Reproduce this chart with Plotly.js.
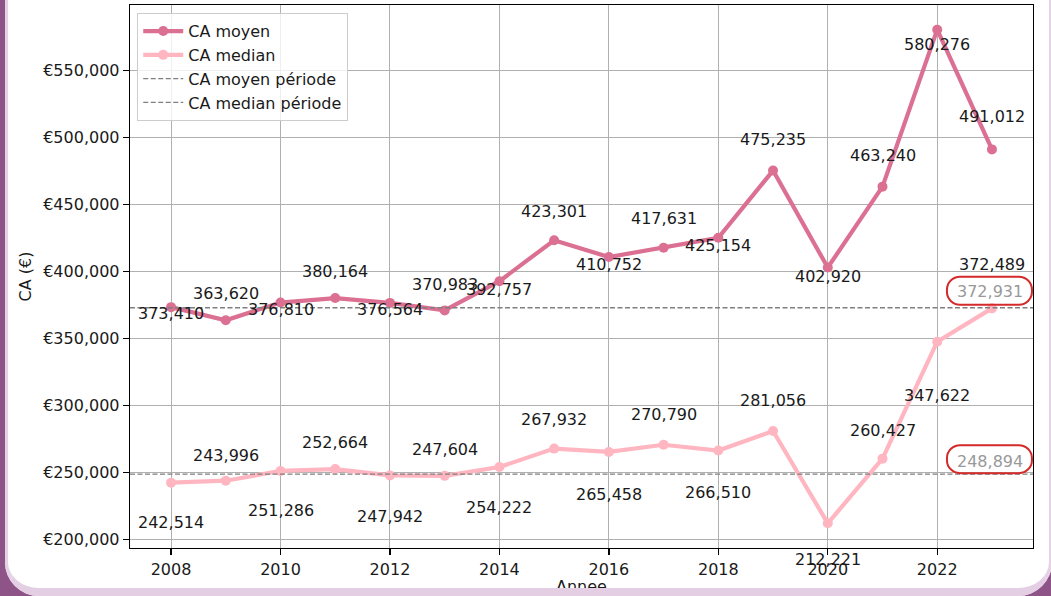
<!DOCTYPE html>
<html>
<head>
<meta charset="utf-8">
<script src="https://cdn.plot.ly/plotly-3.0.1.min.js"></script>
<style>
  html, body { margin: 0; padding: 0; background: #ffffff; overflow: hidden; }
  #wrap { position: relative; width: 1051px; height: 596px; overflow: hidden; }
  #chart { position: absolute; left: 0; top: 0; width: 1051px; height: 596px; }
  #frame {
    position: absolute; left: 5px; top: -60px; width: 1047px; height: 656px;
    box-sizing: border-box; border-radius: 34px;
    border-left: 3px solid #e6d2e6; border-right: 3px solid #e6d2e6; border-bottom: 8px solid #e4cee4;
    box-shadow: 0 0 0 80px #8e5488; pointer-events: none;
  }
</style>
</head>
<body>
<div id="wrap">
  <div id="chart"></div>
  <div id="frame"></div>
</div>
<script>
// ---- data ----
const years = [2008, 2009, 2010, 2011, 2012, 2013, 2014, 2015, 2016, 2017, 2018, 2019, 2020, 2021, 2022, 2023];
const caMoyen = [373410, 363620, 376810, 380164, 376564, 370983, 392757, 423301, 410752, 417631, 425154, 475235, 402920, 463240, 580276, 491012];
const caMedian = [242514, 243996, 251286, 252664, 247942, 247604, 254222, 267932, 265458, 270790, 266510, 281056, 212221, 260427, 347622, 372489];
const caMoyenPeriode = 372931;
const caMedianPeriode = 248894;
const yTicks = [200000, 250000, 300000, 350000, 400000, 450000, 500000, 550000];
const xTicks = [2008, 2010, 2012, 2014, 2016, 2018, 2020, 2022];

// ---- style: label vertical offsets (px) ----
const moyenLabelShift = [-6, 27, -7, 27, -7, 26, -8, 29, -7, 29, -8, 31, -9, 31, -15, 33];
const medianLabelShift = [-40, 25, -40, 27, -41, 26, -41, 29, -43, 30, -42, 31, -36, 28, -54, 44];

const FONT = 'DejaVu Sans, Verdana, sans-serif';
const FS = 16;
const colMoyen = '#db7093';
const colMedian = '#ffb6c1';

const xMin = years[0] - 0.75, xMax = years[years.length - 1] + 0.75;
const allVals = caMoyen.concat(caMedian);
const vMin = Math.min(...allVals), vMax = Math.max(...allVals);
const pad = (vMax - vMin) * 0.05;

const fmt = v => v.toLocaleString('en-US');

const traces = [
  { x: years, y: caMoyen, name: 'CA moyen', type: 'scatter', mode: 'lines+markers',
    line: { color: colMoyen, width: 4.2 }, marker: { color: colMoyen, size: 10 } },
  { x: years, y: caMedian, name: 'CA median', type: 'scatter', mode: 'lines+markers',
    line: { color: colMedian, width: 4.2 }, marker: { color: colMedian, size: 10 } },
  { x: [xMin, xMax], y: [caMoyenPeriode, caMoyenPeriode], name: 'CA moyen période', type: 'scatter', mode: 'lines',
    line: { color: '#7f7f7f', width: 1.3, dash: '5px,2.5px' } },
  { x: [xMin, xMax], y: [caMedianPeriode, caMedianPeriode], name: 'CA median période', type: 'scatter', mode: 'lines',
    line: { color: '#7f7f7f', width: 1.3, dash: '5px,2.5px' } }
];

const annotations = [];
years.forEach((yr, i) => {
  annotations.push({ x: yr, y: caMoyen[i], xref: 'x', yref: 'y', text: fmt(caMoyen[i]), showarrow: false,
    yanchor: 'middle', xanchor: 'center', yshift: moyenLabelShift[i], font: { family: FONT, size: FS, color: '#1a1a1a' } });
  annotations.push({ x: yr, y: caMedian[i], xref: 'x', yref: 'y', text: fmt(caMedian[i]), showarrow: false,
    yanchor: 'middle', xanchor: 'center', yshift: medianLabelShift[i], font: { family: FONT, size: FS, color: '#1a1a1a' } });
});
const lastYear = years[years.length - 1];
[[caMoyenPeriode, 16], [caMedianPeriode, 13]].forEach(([v, s]) => {
  annotations.push({ x: lastYear, y: v, xref: 'x', yref: 'y', text: fmt(v), showarrow: false,
    yanchor: 'middle', xanchor: 'center', xshift: -2, yshift: s, font: { family: FONT, size: FS, color: '#999999' } });
});

function roundRect(cx, cy, w, h, r) {
  const k = r * 0.5523;
  const l = cx - w / 2, rt = cx + w / 2, b = cy - h / 2, t = cy + h / 2;
  return `M${l + r},${b} L${rt - r},${b} C${rt - r + k},${b} ${rt},${b + r - k} ${rt},${b + r} ` +
         `L${rt},${t - r} C${rt},${t - r + k} ${rt - r + k},${t} ${rt - r},${t} ` +
         `L${l + r},${t} C${l + r - k},${t} ${l},${t - r + k} ${l},${t - r} ` +
         `L${l},${b + r} C${l},${b + r - k} ${l + r - k},${b} ${l + r},${b} Z`;
}
const shapes = [
  { type: 'path', xref: 'x', yref: 'y', xsizemode: 'pixel', ysizemode: 'pixel', xanchor: lastYear, yanchor: caMoyenPeriode,
    path: roundRect(-2.5, 17, 85, 28, 13), line: { color: '#d42a2a', width: 2 } },
  { type: 'path', xref: 'x', yref: 'y', xsizemode: 'pixel', ysizemode: 'pixel', xanchor: lastYear, yanchor: caMedianPeriode,
    path: roundRect(-2.5, 15, 85, 28, 13), line: { color: '#d42a2a', width: 2 } }
];

const layout = {
  width: 1051, height: 596,
  margin: { l: 130, r: 18, t: 5, b: 48 },
  paper_bgcolor: '#ffffff', plot_bgcolor: '#ffffff',
  font: { family: FONT, size: FS, color: '#1a1a1a' },
  showlegend: true,
  legend: { x: 0.008, y: 0.985, xanchor: 'left', yanchor: 'top', bgcolor: 'rgba(255,255,255,0.8)',
    bordercolor: '#cccccc', borderwidth: 1, itemwidth: 40, font: { family: FONT, size: FS, color: '#1a1a1a' } },
  xaxis: {
    range: [xMin, xMax], tickvals: xTicks, ticktext: xTicks.map(String),
    showgrid: true, gridcolor: '#b0b0b0', gridwidth: 1, zeroline: false,
    showline: true, mirror: true, linecolor: '#000000', linewidth: 1.3,
    ticks: 'outside', ticklen: 6, tickwidth: 1.3, tickcolor: '#000000',
    tickfont: { family: FONT, size: FS, color: '#1a1a1a' },
    title: { text: 'Annee', font: { family: FONT, size: FS, color: '#1a1a1a' }, standoff: 4 }
  },
  yaxis: {
    range: [vMin - pad, vMax + pad], tickvals: yTicks, ticktext: yTicks.map(v => '€' + fmt(v)),
    showgrid: true, gridcolor: '#b0b0b0', gridwidth: 1, zeroline: false,
    showline: true, mirror: true, linecolor: '#000000', linewidth: 1.3,
    ticks: 'outside', ticklen: 6, tickwidth: 1.3, tickcolor: '#000000',
    tickfont: { family: FONT, size: FS, color: '#1a1a1a' },
    title: { text: 'CA (€)', font: { family: FONT, size: FS, color: '#1a1a1a' }, standoff: 7 }
  },
  annotations: annotations,
  shapes: shapes
};

Plotly.newPlot('chart', traces, layout, { displayModeBar: false, staticPlot: true });
</script>
</body>
</html>
